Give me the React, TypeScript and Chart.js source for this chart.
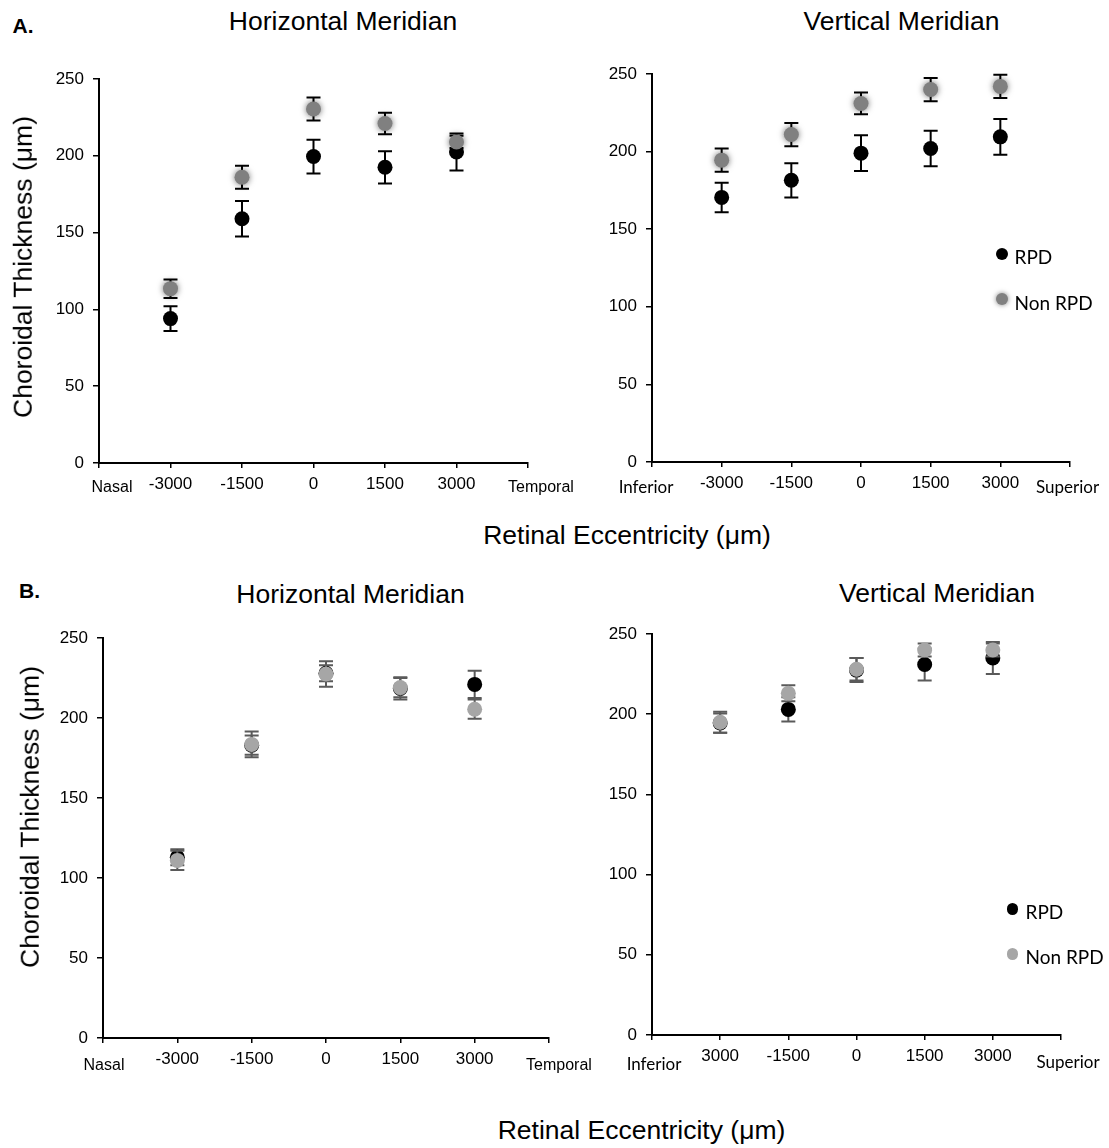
import React, { useEffect, useRef } from 'react';
import { Chart, registerables } from 'chart.js';

Chart.register(...registerables);

// ---------------- data ----------------
const eccentricities = [-3000, -1500, 0, 1500, 3000];
const xTickValues = [-4500, -3000, -1500, 0, 1500, 3000, 4500];
const xTickLabelsDefault = ['', '-3000', '-1500', '0', '1500', '3000', ''];
const xTickLabelsBVertical = ['', '3000', '-1500', '0', '1500', '3000', ''];
const yTickStep = 50;
const yMin = 0;
const yMax = 250;
const seriesNames = ['RPD', 'Non RPD'];

// Panel A, horizontal meridian
const aHorizRpd = [94, 159, 199.5, 192.5, 202.5];
const aHorizRpdErr = [8, 11.5, 11, 10.5, 12];
const aHorizNonRpd = [113.5, 186, 230.5, 221, 209];
const aHorizNonRpdErr = [6, 7.5, 7.5, 7, 4];

// Panel A, vertical meridian
const aVertRpd = [170.5, 181.5, 199, 202, 209.5];
const aVertRpdErr = [9.5, 11, 11.5, 11.5, 11.5];
const aVertNonRpd = [194.5, 211, 231, 240, 242];
const aVertNonRpdErr = [7.5, 7.5, 7, 7.5, 7.5];

// Panel B, horizontal meridian
const bHorizRpd = [113, 183, 228, 218.5, 221];
const bHorizRpdErr = [5, 6, 5, 7, 8.5];
const bHorizNonRpd = [111, 183.5, 227.5, 219, 205.5];
const bHorizNonRpdErr = [6, 8, 8, 6, 6];

// Panel B, vertical meridian
const bVertRpd = [194.5, 203, 227.5, 231, 235];
const bVertRpdErr = [6, 7.5, 7.5, 10, 10];
const bVertNonRpd = [195, 213, 228, 240, 240];
const bVertNonRpdErr = [6.5, 5, 7, 4, 4];

// ---------------- styling / layout ----------------
const ARIAL = '"Liberation Sans", Arial, sans-serif';
const CALIBRI = 'Lato, "Open Sans", sans-serif';
const YW = 70;
const PT = 24;
const XH = 50;

type Panel = {
  area: { l: number; r: number; t: number; b: number };
  pr: number;
  rpd: number[];
  rpdErr: number[];
  non: number[];
  nonErr: number[];
  tickLabels: string[];
  endLeft: string;
  endRight: string;
  endFont: string;
  dxL: number;
  dxR: number;
  dyL: number;
  dyR: number;
  nonColor: string;
  errColor: string;
  shadow: boolean;
  tickPad: number;
};

const panelAStyle = { nonColor: '#808080', errColor: '#000000', shadow: true, tickPad: 6.5 };
const panelBStyle = { nonColor: '#a6a6a6', errColor: '#5a5a5a', shadow: false, tickPad: 6 };

const panels: Panel[] = [
  {
    area: { l: 99, r: 528, t: 79, b: 463 }, pr: 60,
    rpd: aHorizRpd, rpdErr: aHorizRpdErr, non: aHorizNonRpd, nonErr: aHorizNonRpdErr,
    tickLabels: xTickLabelsDefault, endLeft: 'Nasal', endRight: 'Temporal', endFont: `16px ${ARIAL}`,
    dxL: 13, dxR: 13, dyL: 25, dyR: 25, ...panelAStyle,
  },
  {
    area: { l: 652, r: 1070, t: 74, b: 462 }, pr: 35,
    rpd: aVertRpd, rpdErr: aVertRpdErr, non: aVertNonRpd, nonErr: aVertNonRpdErr,
    tickLabels: xTickLabelsDefault, endLeft: 'Inferior', endRight: 'Superior', endFont: `17px ${CALIBRI}`,
    dxL: -6, dxR: -2.5, dyL: 26, dyR: 26, ...panelAStyle,
  },
  {
    area: { l: 103, r: 549, t: 638, b: 1038 }, pr: 55,
    rpd: bHorizRpd, rpdErr: bHorizRpdErr, non: bHorizNonRpd, nonErr: bHorizNonRpdErr,
    tickLabels: xTickLabelsDefault, endLeft: 'Nasal', endRight: 'Temporal', endFont: `16px ${ARIAL}`,
    dxL: 1, dxR: 10, dyL: 28, dyR: 28, ...panelBStyle,
  },
  {
    area: { l: 652, r: 1061, t: 634, b: 1035 }, pr: 45,
    rpd: bVertRpd, rpdErr: bVertRpdErr, non: bVertNonRpd, nonErr: bVertNonRpdErr,
    tickLabels: xTickLabelsBVertical, endLeft: 'Inferior', endRight: 'Superior', endFont: `17px ${CALIBRI}`,
    dxL: 2, dxR: 7, dyL: 30, dyR: 28, ...panelBStyle,
  },
];

// ---------------- plugins ----------------
const errorBarPlugin = {
  id: 'errorBars',
  beforeDatasetDraw(chart: any, args: any) {
    const ds = chart.data.datasets[args.index];
    const ctx = chart.ctx;
    const yScale = chart.scales.y;
    if (ds.errors) {
      ctx.save();
      ctx.strokeStyle = ds.errorColor;
      ctx.lineWidth = 2;
      const cap = 7;
      args.meta.data.forEach((pt: any, i: number) => {
        const v = ds.data[i].y;
        const e = ds.errors[i];
        const x = pt.x;
        const yt = yScale.getPixelForValue(v + e);
        const yb = yScale.getPixelForValue(v - e);
        ctx.beginPath();
        ctx.moveTo(x, yt);
        ctx.lineTo(x, yb);
        ctx.moveTo(x - cap, yt);
        ctx.lineTo(x + cap, yt);
        ctx.moveTo(x - cap, yb);
        ctx.lineTo(x + cap, yb);
        ctx.stroke();
      });
      ctx.restore();
    }
    ctx.save();
    if (ds.glow) {
      ctx.shadowColor = 'rgba(0,0,0,0.55)';
      ctx.shadowBlur = 6;
    }
  },
  afterDatasetDraw(chart: any) {
    chart.ctx.restore();
  },
};

const endLabelPlugin = {
  id: 'endLabels',
  afterDraw(chart: any, _args: any, opts: any) {
    if (!opts || !opts.left) return;
    const { ctx, chartArea } = chart;
    const xs = chart.scales.x;
    ctx.save();
    ctx.font = opts.font;
    ctx.fillStyle = '#000';
    ctx.textAlign = 'center';
    ctx.textBaseline = 'middle';
    ctx.fillText(opts.left, xs.getPixelForValue(xs.min) + opts.dxL, chartArea.bottom + opts.dyL);
    ctx.fillText(opts.right, xs.getPixelForValue(xs.max) + opts.dxR, chartArea.bottom + opts.dyR);
    ctx.restore();
  },
};

function PanelChart({ p }: { p: Panel }) {
  const ref = useRef<HTMLCanvasElement | null>(null);
  const left = p.area.l - YW;
  const top = p.area.t - PT;
  const width = p.area.r + p.pr - left;
  const height = p.area.b + XH - top;

  useEffect(() => {
    if (!ref.current) return;
    const tickFont = { family: ARIAL, size: 17 };
    const chart = new Chart(ref.current, {
      type: 'scatter',
      data: {
        datasets: [
          {
            label: seriesNames[0],
            data: eccentricities.map((x, i) => ({ x, y: p.rpd[i] })),
            errors: p.rpdErr,
            errorColor: p.errColor,
            backgroundColor: '#000000',
            borderColor: '#000000',
            borderWidth: 0,
            pointRadius: 7.5,
            order: 1,
          } as any,
          {
            label: seriesNames[1],
            data: eccentricities.map((x, i) => ({ x, y: p.non[i] })),
            errors: p.nonErr,
            errorColor: p.errColor,
            glow: p.shadow,
            backgroundColor: p.nonColor,
            borderColor: p.nonColor,
            borderWidth: 0,
            pointRadius: 7.5,
            order: 0,
          } as any,
        ],
      },
      options: {
        responsive: false,
        animation: false,
        devicePixelRatio: 1,
        events: [],
        layout: { padding: { top: PT, right: p.pr, left: 0, bottom: 0 } },
        plugins: {
          legend: { display: false },
          tooltip: { enabled: false },
          endLabels: {
            left: p.endLeft, right: p.endRight, font: p.endFont,
            dxL: p.dxL, dxR: p.dxR, dyL: p.dyL, dyR: p.dyR,
          },
        } as any,
        scales: {
          x: {
            type: 'linear',
            min: xTickValues[0],
            max: xTickValues[xTickValues.length - 1],
            afterBuildTicks: (s: any) => {
              s.ticks = xTickValues.map((v) => ({ value: v }));
            },
            afterFit: (s: any) => {
              s.height = XH;
            },
            ticks: {
              autoSkip: false,
              maxRotation: 0,
              padding: p.tickPad,
              color: '#000',
              font: tickFont,
              callback: (v: any) => {
                const i = xTickValues.indexOf(Number(v));
                return i >= 0 ? p.tickLabels[i] : '';
              },
            },
            grid: { drawOnChartArea: false, color: '#000', lineWidth: 1.5, tickLength: 5 },
            border: { color: '#000', width: 2 },
          },
          y: {
            type: 'linear',
            min: yMin,
            max: yMax,
            afterFit: (s: any) => {
              s.width = YW;
            },
            ticks: { stepSize: yTickStep, padding: 9, color: '#000', font: tickFont },
            grid: { drawOnChartArea: false, color: '#000', lineWidth: 1.5, tickLength: 6 },
            border: { color: '#000', width: 2 },
          },
        },
      } as any,
      plugins: [errorBarPlugin, endLabelPlugin],
    });
    return () => chart.destroy();
  }, []);

  return (
    <canvas
      ref={ref}
      width={width}
      height={height}
      style={{ position: 'absolute', left, top, width, height }}
    />
  );
}

function Txt({ x, y, text, size, bold, family, rotate, align }: any) {
  return (
    <div
      style={{
        position: 'absolute',
        left: x,
        top: y,
        transform: `translate(${align === 'left' ? '0' : '-50%'}, -50%)${rotate ? ' rotate(-90deg)' : ''}`,
        fontFamily: family || ARIAL,
        fontSize: size,
        fontWeight: bold ? 700 : 400,
        lineHeight: 1,
        whiteSpace: 'nowrap',
        color: '#000',
      }}
    >
      {text}
    </div>
  );
}

function Dot({ x, y, r, color, glow }: any) {
  return (
    <div
      style={{
        position: 'absolute',
        left: x - r,
        top: y - r,
        width: 2 * r,
        height: 2 * r,
        borderRadius: '50%',
        background: color,
        boxShadow: glow ? '0 0 5px rgba(0,0,0,0.5)' : 'none',
      }}
    />
  );
}

export default function App() {
  return (
    <div
      style={{
        position: 'absolute',
        left: 0,
        top: 0,
        width: 1109,
        height: 1148,
        overflow: 'hidden',
        background: '#fff',
      }}
    >
      {panels.map((p, i) => (
        <PanelChart key={i} p={p} />
      ))}

      <Txt x={23} y={25} text="A." size={21} bold />
      <Txt x={29.5} y={590} text="B." size={21} bold />

      <Txt x={343} y={21} text="Horizontal Meridian" size={26.5} />
      <Txt x={901.5} y={21} text="Vertical Meridian" size={26.5} />
      <Txt x={350.5} y={593.5} text="Horizontal Meridian" size={26.5} />
      <Txt x={937} y={593} text="Vertical Meridian" size={26.5} />

      <Txt x={23} y={267} text="Choroidal Thickness (μm)" size={26.5} rotate />
      <Txt x={30} y={817} text="Choroidal Thickness (μm)" size={26.5} rotate />

      <Txt x={627} y={535} text="Retinal Eccentricity (μm)" size={26.5} />
      <Txt x={641.5} y={1130} text="Retinal Eccentricity (μm)" size={26.5} />

      <Dot x={1002} y={254} r={6.2} color="#000" />
      <Txt x={1014.5} y={256} text={seriesNames[0]} size={19} family={CALIBRI} align="left" />
      <Dot x={1002} y={299} r={6.2} color="#808080" glow />
      <Txt x={1014.5} y={301.5} text={seriesNames[1]} size={19} family={CALIBRI} align="left" />

      <Dot x={1012.5} y={909} r={5.6} color="#000" />
      <Txt x={1025.5} y={911} text={seriesNames[0]} size={19} family={CALIBRI} align="left" />
      <Dot x={1012.5} y={954} r={5.6} color="#a6a6a6" />
      <Txt x={1025.5} y={955.5} text={seriesNames[1]} size={19} family={CALIBRI} align="left" />
    </div>
  );
}
